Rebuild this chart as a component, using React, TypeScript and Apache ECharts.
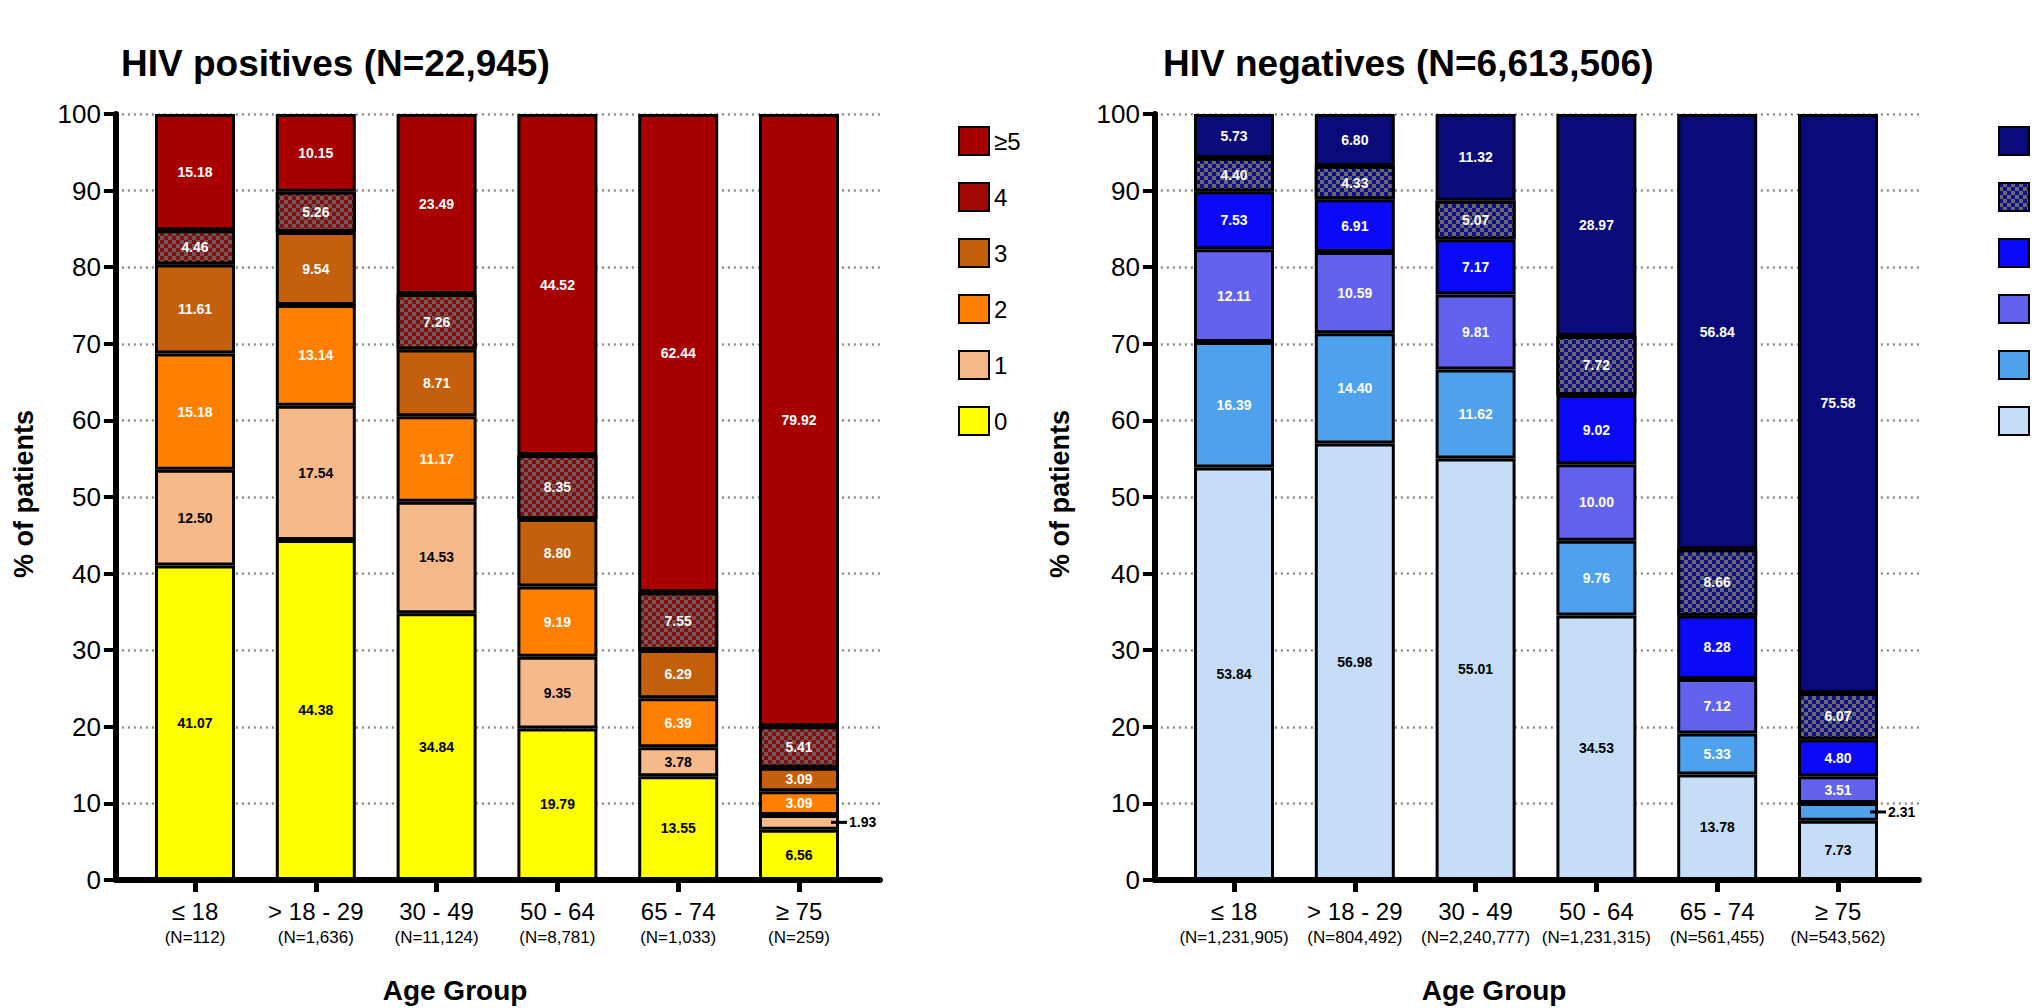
import React, { useEffect, useRef } from 'react';
import * as echarts from 'echarts';

// ---------- data ----------
const ageGroups = ['≤ 18', '> 18 - 29', '30 - 49', '50 - 64', '65 - 74', '≥ 75'];
const posN = ['(N=112)', '(N=1,636)', '(N=11,124)', '(N=8,781)', '(N=1,033)', '(N=259)'];
const negN = ['(N=1,231,905)', '(N=804,492)', '(N=2,240,777)', '(N=1,231,315)', '(N=561,455)', '(N=543,562)'];
const levels = ['0', '1', '2', '3', '4', '≥5'];

// HIV positives (% of patients), by level, per age group
const pos0 = [41.07, 44.38, 34.84, 19.79, 13.55, 6.56];
const pos1 = [12.5, 17.54, 14.53, 9.35, 3.78, 1.93];
const pos2 = [15.18, 13.14, 11.17, 9.19, 6.39, 3.09];
const pos3 = [11.61, 9.54, 8.71, 8.8, 6.29, 3.09];
const pos4 = [4.46, 5.26, 7.26, 8.35, 7.55, 5.41];
const pos5 = [15.18, 10.15, 23.49, 44.52, 62.44, 79.92];

// HIV negatives (% of patients)
const neg0 = [53.84, 56.98, 55.01, 34.53, 13.78, 7.73];
const neg1 = [16.39, 14.4, 11.62, 9.76, 5.33, 2.31];
const neg2 = [12.11, 10.59, 9.81, 10.0, 7.12, 3.51];
const neg3 = [7.53, 6.91, 7.17, 9.02, 8.28, 4.8];
const neg4 = [4.4, 4.33, 5.07, 7.72, 8.66, 6.07];
const neg5 = [5.73, 6.8, 11.32, 28.97, 56.84, 75.58];

const Y_MIN = 0;
const Y_MAX = 100;
const Y_STEP = 10;

// ---------- styles ----------
const FONT = '"Liberation Sans", Arial, Helvetica, sans-serif';
const posColors = ['#FFFF00', '#F6B98A', '#FF8000', '#C4600C', '#7E1010', '#A80000'];
const negColors = ['#C5DDF7', '#4EA1EC', '#6262EE', '#0A0AF8', '#0E0E86', '#0A0A7A'];
const posLabelColors = ['#000', '#000', '#fff', '#fff', '#fff', '#fff'];
const negLabelColors = ['#000', '#fff', '#fff', '#fff', '#fff', '#fff'];

// layout (px)
const BAND = 120.8;
const TOP = 114;
const HEIGHT = 766;
const POS_FIRST = 195;
const NEG_FIRST = 1234;
const X_MIN = -0.655;
const X_MAX = 5.67;

function decalFor(color: string) {
  return {
    symbol: 'rect',
    symbolSize: 1,
    color,
    dashArrayX: [
      [4, 4],
      [0, 4, 4, 0],
    ],
    dashArrayY: [4, 0],
    rotation: 0,
  };
}

function buildSeries(
  prefix: string,
  sets: number[][],
  colors: string[],
  labelColors: string[],
  axisIdx: number,
  decalColor: string
) {
  return sets.map((vals, li) => ({
    type: 'bar',
    name: prefix + levels[li],
    xAxisIndex: axisIdx,
    yAxisIndex: axisIdx,
    stack: 'stack' + axisIdx,
    barWidth: 80,
    itemStyle: {
      color: colors[li],
      borderColor: '#000',
      borderWidth: 3,
      decal: li === 4 ? decalFor(decalColor) : 'none',
    },
    emphasis: { disabled: true },
    label: {
      show: true,
      position: 'inside',
      color: labelColors[li],
      fontFamily: FONT,
      fontWeight: 'bold',
      fontSize: 14,
      formatter: (p: any) => Number(p.value).toFixed(2),
    },
    data: vals.map((v) =>
      v < 2.5
        ? {
            value: v,
            label: {
              position: 'right',
              distance: -8,
              formatter: '{l|}{v|' + v.toFixed(2) + '}',
              rich: {
                l: { width: 16, height: 3, backgroundColor: '#000' },
                v: { color: '#000', fontFamily: FONT, fontWeight: 'bold', fontSize: 14, padding: [0, 0, 0, 2] },
              },
            },
          }
        : v
    ),
  }));
}

function visualXAxis(gridIndex: number, nLabels: string[]) {
  return {
    type: 'value',
    gridIndex,
    min: X_MIN,
    max: X_MAX,
    splitLine: { show: false },
    axisLine: { show: true, onZero: false, lineStyle: { color: '#000', width: 6 } },
    axisTick: {
      show: true,
      customValues: [0, 1, 2, 3, 4, 5],
      length: 12,
      lineStyle: { color: '#000', width: 5 },
    },
    axisLabel: {
      show: true,
      customValues: [0, 1, 2, 3, 4, 5],
      margin: 16,
      formatter: (v: number) => {
        const i = Math.round(v);
        return '{a|' + ageGroups[i] + '}\n{b|' + nLabels[i] + '}';
      },
      rich: {
        a: { fontFamily: FONT, fontSize: 24, color: '#000', lineHeight: 30 },
        b: { fontFamily: FONT, fontSize: 17, color: '#000', lineHeight: 22 },
      },
    },
  };
}

function barXAxis(gridIndex: number) {
  return { type: 'category', gridIndex, data: ageGroups, show: false, boundaryGap: true };
}

function visualYAxis(gridIndex: number) {
  return {
    type: 'value',
    gridIndex,
    min: Y_MIN,
    max: Y_MAX,
    interval: Y_STEP,
    axisLine: { show: true, onZero: false, lineStyle: { color: '#000', width: 6 } },
    axisTick: { show: true, length: 12, lineStyle: { color: '#000', width: 4 } },
    axisLabel: { fontFamily: FONT, fontSize: 26, color: '#000', margin: 15 },
    splitLine: { show: true, lineStyle: { type: [2, 4], color: '#8c8c8c', width: 2.5 } },
  };
}

function barYAxis(gridIndex: number) {
  return { type: 'value', gridIndex, min: Y_MIN, max: Y_MAX, show: false, splitLine: { show: false } };
}

function axisName(text: string, x: number, y: number, rotate: boolean, size: number) {
  return {
    type: 'text',
    x,
    y,
    rotation: rotate ? Math.PI / 2 : 0,
    style: {
      text,
      font: 'bold ' + size + 'px ' + FONT,
      fill: '#000',
      textAlign: 'center',
      textVerticalAlign: 'middle',
    },
  };
}

export default function App() {
  const ref = useRef<HTMLDivElement>(null);
  useEffect(() => {
    document.body.style.margin = '0';
    if (!ref.current) return;
    const chart = echarts.init(ref.current, null, { renderer: 'svg' });
    const legendOrder = [...levels].reverse();
    const visWidth = (X_MAX - X_MIN) * BAND;
    const legendCommon = {
      orient: 'vertical',
      top: 121,
      itemWidth: 30,
      itemHeight: 28,
      itemGap: 26,
      icon: 'rect',
      selectedMode: false,
      textStyle: { fontFamily: FONT, fontSize: 24, color: '#000' },
    };
    chart.setOption({
      animation: false,
      backgroundColor: '#fff',
      title: [
        {
          text: 'HIV positives (N=22,945)',
          left: 121,
          top: 45,
          padding: 0,
          textStyle: { fontFamily: FONT, fontWeight: 'bold', fontSize: 37, color: '#000' },
        },
        {
          text: 'HIV negatives (N=6,613,506)',
          left: 1163,
          top: 45,
          padding: 0,
          textStyle: { fontFamily: FONT, fontWeight: 'bold', fontSize: 37, color: '#000' },
        },
      ],
      grid: [
        { left: POS_FIRST + X_MIN * BAND, top: TOP, width: visWidth, height: HEIGHT },
        { left: POS_FIRST - BAND / 2, top: TOP, width: BAND * 6, height: HEIGHT },
        { left: NEG_FIRST + X_MIN * BAND, top: TOP, width: visWidth, height: HEIGHT },
        { left: NEG_FIRST - BAND / 2, top: TOP, width: BAND * 6, height: HEIGHT },
      ],
      legend: [
        {
          ...legendCommon,
          left: 953,
          data: legendOrder.map((l) =>
            l === '4' ? { name: l, itemStyle: { color: '#A00808', decal: 'none' } } : l
          ),
        },
        {
          ...legendCommon,
          left: 1993,
          data: legendOrder.map((l) => 'neg ' + l),
          formatter: () => '',
        },
      ],
      xAxis: [visualXAxis(0, posN), barXAxis(1), visualXAxis(2, negN), barXAxis(3)],
      yAxis: [visualYAxis(0), barYAxis(1), visualYAxis(2), barYAxis(3)],
      graphic: [
        axisName('% of patients', 24, 494, true, 27),
        axisName('% of patients', 1060, 494, true, 27),
        axisName('Age Group', 455, 990, false, 28),
        axisName('Age Group', 1494, 990, false, 28),
      ],
      series: [
        ...buildSeries('', [pos0, pos1, pos2, pos3, pos4, pos5], posColors, posLabelColors, 1, 'rgba(115,105,105,0.8)'),
        ...buildSeries('neg ', [neg0, neg1, neg2, neg3, neg4, neg5], negColors, negLabelColors, 3, 'rgba(125,125,105,0.8)'),
      ],
    });
    return () => chart.dispose();
  }, []);
  return <div ref={ref} style={{ width: 2040, height: 1008 }} />;
}
